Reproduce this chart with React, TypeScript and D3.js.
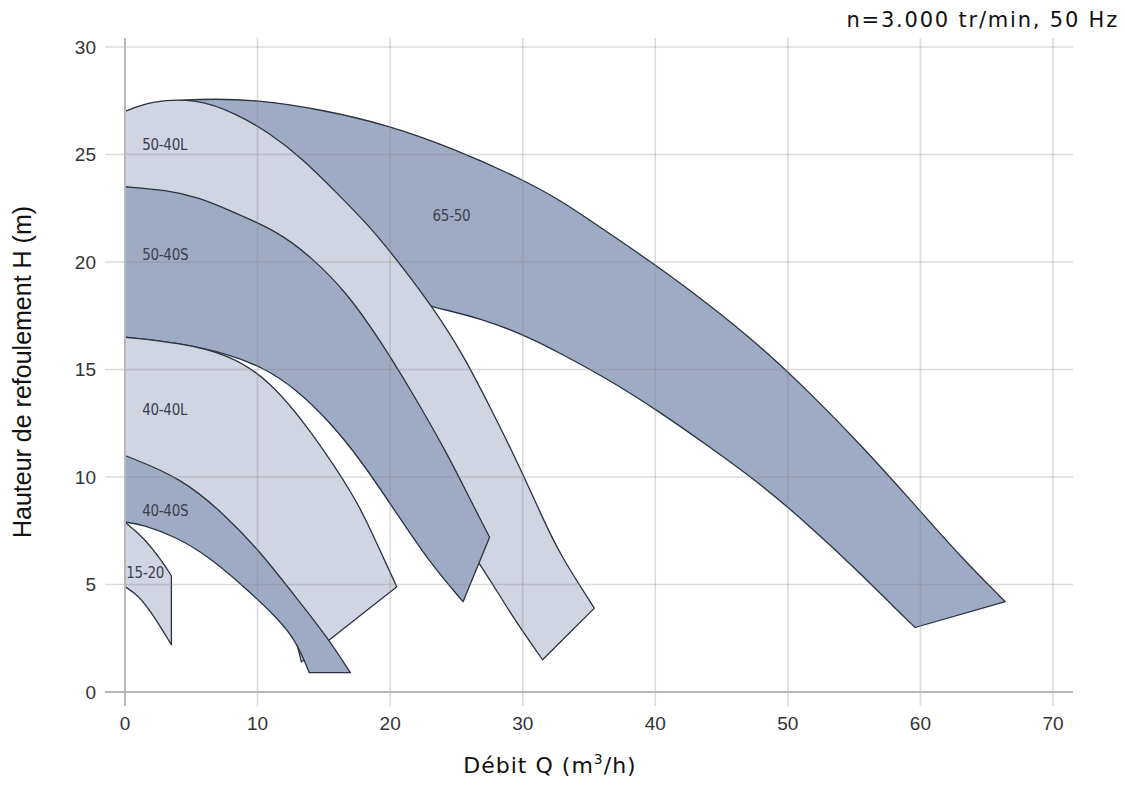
import { useEffect, useRef } from "react"
import * as d3 from "d3"

// Axes
const xTicks = [0, 10, 20, 30, 40, 50, 60, 70]
const yTicks = [0, 5, 10, 15, 20, 25, 30]

// Pump ranges: Q (m3/h), H (m). Upper curve left->right, lower curve right->left
const upper6550 = [[0, 27.0], [2.0, 27.4], [5.4, 27.6], [10.1, 27.55], [14.7, 27.1], [19.7, 26.4], [24.7, 25.3], [29.8, 23.9], [32.8, 22.9], [36.6, 21.3], [40.4, 19.7], [44.1, 18.0], [47.9, 16.1], [51.7, 13.9], [55.5, 11.5], [59.3, 8.9], [63.0, 6.3], [66.4, 4.2]]
const lower6550 = [[59.6, 3.0], [58.0, 3.95], [55.5, 5.5], [51.7, 7.7], [47.9, 9.7], [44.1, 11.4], [40.4, 13.0], [36.6, 14.5], [32.7, 15.8], [30.5, 16.5], [26.8, 17.4], [23.2, 17.9], [20, 18.5], [15, 19.4], [10, 20.2], [0, 21.2]]

const upper5040L = [[0, 27.0], [2.0, 27.5], [5.4, 27.6], [8.4, 26.9], [10.9, 26.0], [13.4, 24.8], [16.0, 23.2], [18.4, 21.7], [20.9, 19.8], [23.2, 17.9], [25.5, 15.7], [27.5, 13.3], [29.6, 10.7], [31.5, 8.1], [32.8, 6.4], [35.4, 3.9]]
const lower5040L = [[31.5, 1.5], [29.0, 3.7], [26.8, 6.0], [23, 9.2], [18, 12.8], [10, 17.2], [0, 20.2]]

const upper5040S = [[0, 23.5], [3.1, 23.35], [5.6, 23.0], [7.9, 22.4], [11.6, 21.4], [14.1, 20.2], [16.7, 18.6], [19.2, 16.4], [21.7, 13.9], [24.3, 11.1], [26.0, 9.0], [27.5, 7.2]]
const lower5040S = [[25.5, 4.2], [23.0, 6.0], [20.5, 8.3], [17.9, 10.7], [15.4, 12.6], [12.9, 14.1], [10.4, 15.1], [7.9, 15.7], [4, 16.25], [0, 16.5]]

const upper4040L = [[0, 16.5], [4, 16.25], [7.9, 15.7], [10.9, 14.5], [14.1, 12.1], [17.5, 8.9], [18.4, 7.7], [20.5, 4.9]]
const lower4040L = [[13.3, 1.4], [12.6, 3.3], [10, 5.3], [6, 7.8], [0, 9.5]]

const upper4040S = [[0, 11.0], [4.3, 9.95], [7.6, 8.2], [10.1, 6.6], [12.9, 4.4], [15.2, 2.6], [17.0, 0.9]]
const lower4040S = [[13.9, 0.9], [12.9, 2.4], [11.4, 3.5], [8.8, 5.0], [6.3, 6.3], [3.9, 7.2], [1.3, 7.8], [0, 7.9]]

const upper1520 = [[0, 7.9], [1.4, 7.2], [2.9, 6.0], [3.5, 5.4]]
const lower1520 = [[3.5, 2.2], [2.0, 3.7], [1.0, 4.5], [0, 4.9]]

// Labels
const labelNames = ["65-50", "50-40L", "50-40S", "40-40L", "40-40S", "15-20"]
const labelQ = [23.2, 1.3, 1.3, 1.3, 1.3, 0.1]
const labelH = [21.9, 25.2, 20.1, 12.9, 8.2, 5.3]

const ranges = [
  { upper: upper6550, lower: lower6550, tone: "dark" },
  { upper: upper5040L, lower: lower5040L, tone: "light" },
  { upper: upper5040S, lower: lower5040S, tone: "dark" },
  { upper: upper4040L, lower: lower4040L, tone: "light" },
  { upper: upper4040S, lower: lower4040S, tone: "dark" },
  { upper: upper1520, lower: lower1520, tone: "light" },
]

const colors: Record<string, string> = { dark: "#9eabc5", light: "#d1d4e1" }

export default function App() {
  const svgRef = useRef<SVGSVGElement>(null)

  useEffect(() => {
    if (!svgRef.current) return
    const svg = d3.select(svgRef.current)
    svg.selectAll("*").remove()

    const x = d3.scaleLinear().domain([0, 70]).range([125, 1053])
    const y = d3.scaleLinear().domain([0, 30]).range([692, 47])

    const line = d3
      .line<number[]>()
      .x((d) => x(d[0]))
      .y((d) => y(d[1]))
      .curve(d3.curveBasis)

    // Zones
    const zones = svg.append("g")
    ranges.forEach((r) => {
      const up = line(r.upper)!
      const lo = line(r.lower)!
      const outline = up + "L" + lo.slice(1)
      zones.append("path").attr("d", outline + "Z").attr("fill", colors[r.tone])
      zones
        .append("path")
        .attr("d", outline)
        .attr("fill", "none")
        .attr("stroke", "#2c3240")
        .attr("stroke-width", 1.3)
        .attr("stroke-linejoin", "round")
    })

    // Grille (over the zones, semi transparent)
    const grid = svg.append("g").attr("stroke", "#888").attr("stroke-opacity", 0.3).attr("stroke-width", 1.6)
    grid
      .selectAll(".h")
      .data(yTicks.slice(1))
      .enter()
      .append("line")
      .attr("x1", 105)
      .attr("x2", 1073)
      .attr("y1", (d) => y(d))
      .attr("y2", (d) => y(d))
    grid
      .selectAll(".v")
      .data(xTicks.slice(1))
      .enter()
      .append("line")
      .attr("x1", (d) => x(d))
      .attr("x2", (d) => x(d))
      .attr("y1", 38)
      .attr("y2", 706)

    // Axes
    const axes = svg.append("g").attr("stroke", "#b8b8b8").attr("stroke-width", 2)
    axes.append("line").attr("x1", 105).attr("x2", 1073).attr("y1", y(0)).attr("y2", y(0))
    axes.append("line").attr("x1", x(0)).attr("x2", x(0)).attr("y1", 38).attr("y2", 706)

    // Tick labels
    svg
      .append("g")
      .selectAll("text")
      .data(xTicks)
      .enter()
      .append("text")
      .attr("x", (d) => x(d))
      .attr("y", 730)
      .attr("text-anchor", "middle")
      .style("font-family", "'Liberation Sans', Arial, sans-serif")
      .style("font-size", "19px")
      .attr("fill", "#333")
      .text((d) => d)

    svg
      .append("g")
      .selectAll("text")
      .data(yTicks)
      .enter()
      .append("text")
      .attr("x", 96)
      .attr("y", (d) => y(d))
      .attr("dy", "0.35em")
      .attr("text-anchor", "end")
      .style("font-family", "'Liberation Sans', Arial, sans-serif")
      .style("font-size", "19px")
      .attr("fill", "#333")
      .text((d) => d)

    // Zone labels
    svg
      .append("g")
      .selectAll("text")
      .data(labelNames)
      .enter()
      .append("text")
      .attr("x", (d, i) => x(labelQ[i]))
      .attr("y", (d, i) => y(labelH[i]))
      .style("font-family", "'Liberation Sans Narrow', 'DejaVu Sans Condensed', sans-serif")
      .style("font-size", "15px")
      .style("letter-spacing", "-0.3px")
      .attr("fill", "#3a3f4f")
      .text((d) => d)

    // Titres
    svg
      .append("text")
      .attr("transform", "translate(31,372) rotate(-90)")
      .attr("text-anchor", "middle")
      .style("font-family", "'Liberation Sans', Arial, sans-serif")
      .style("font-size", "25px")
      .attr("fill", "#111")
      .text("Hauteur de refoulement H (m)")

    const xt = svg
      .append("text")
      .attr("x", 550)
      .attr("y", 773)
      .attr("text-anchor", "middle")
      .style("font-family", "'DejaVu Sans', Verdana, sans-serif")
      .style("font-size", "22px")
      .style("letter-spacing", "1px")
      .attr("fill", "#111")
    xt.append("tspan").text("Débit Q (m")
    xt.append("tspan").attr("dy", -9).style("font-size", "14px").text("3")
    xt.append("tspan").attr("dy", 9).text("/h)")

    svg
      .append("text")
      .attr("x", 1119)
      .attr("y", 27)
      .attr("text-anchor", "end")
      .style("font-family", "'DejaVu Sans', Verdana, sans-serif")
      .style("font-size", "21px")
      .style("letter-spacing", "1.8px")
      .attr("fill", "#111")
      .text("n=3.000 tr/min, 50 Hz")
  }, [])

  return (
    <svg
      ref={svgRef}
      width={1125}
      height={787}
      style={{ position: "absolute", left: 0, top: 0, background: "#fff" }}
    />
  )
}
